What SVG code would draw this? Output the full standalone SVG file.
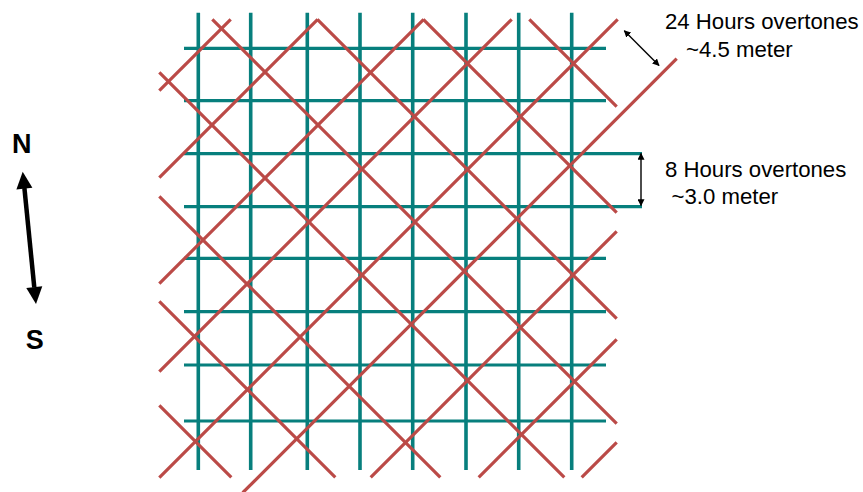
<svg xmlns="http://www.w3.org/2000/svg" width="863" height="492" viewBox="0 0 863 492">
<style>
.g{stroke:#077F7D;fill:none}
.gv{stroke-width:3.6}
.gh{stroke-width:3.2}
.r{stroke:#BB4A47;stroke-width:3.2;fill:none;stroke-linecap:butt}
.t{font-family:"Liberation Sans",Arial,sans-serif;font-size:22.2px;fill:#000}
.b{font-family:"Liberation Sans",Arial,sans-serif;font-size:27px;font-weight:bold;fill:#000}
.thin{stroke:#000;stroke-width:1.4;fill:none}
</style>
<defs>
<marker id="ah" viewBox="0 0 10 10" refX="9" refY="5" markerWidth="7" markerHeight="7" markerUnits="userSpaceOnUse" orient="auto-start-reverse">
<path d="M0,0 L10,5 L0,10 z" fill="#000"/>
</marker>
</defs>
<rect width="863" height="492" fill="#fff"/>
<g id="grid-8h">
<g class="g gv">
<line x1="198.3" y1="12.7" x2="198.3" y2="470"/>
<line x1="250.7" y1="12.7" x2="250.7" y2="470"/>
<line x1="307.3" y1="12.7" x2="307.3" y2="470"/>
<line x1="360" y1="12.7" x2="360" y2="470"/>
<line x1="412.7" y1="12.7" x2="412.7" y2="470"/>
<line x1="466" y1="12.7" x2="466" y2="470"/>
<line x1="518.7" y1="12.7" x2="518.7" y2="470"/>
<line x1="571.7" y1="12.7" x2="571.7" y2="470"/>
</g>
<g class="g gh">
<line x1="184" y1="48.3" x2="606" y2="48.3"/>
<line x1="184" y1="100.7" x2="606" y2="100.7"/>
<line x1="184" y1="153.7" x2="642" y2="153.7"/>
<line x1="184" y1="206.7" x2="642" y2="206.7"/>
<line x1="184" y1="258.3" x2="606" y2="258.3"/>
<line x1="184" y1="311.7" x2="606" y2="311.7"/>
<line x1="184" y1="365" x2="606" y2="365"/>
<line x1="184" y1="421" x2="606" y2="421"/>
</g>
</g>
<g id="grid-24h" class="r">
<line x1="159.3" y1="90.7" x2="230.7" y2="19.3"/>
<line x1="159.3" y1="177.7" x2="317.7" y2="19.3"/>
<line x1="159.3" y1="283.7" x2="423.7" y2="19.3"/>
<line x1="159.3" y1="371.7" x2="511.7" y2="19.3"/>
<line x1="159.3" y1="477.7" x2="617.7" y2="19.3"/>
<line x1="242.7" y1="492.7" x2="676.7" y2="58.7"/>
<line x1="370.7" y1="477.3" x2="616.7" y2="231.3"/>
<line x1="478.7" y1="477.3" x2="616.7" y2="339.3"/>
<line x1="581.7" y1="477.3" x2="616.7" y2="442.3"/>
<line x1="529.3" y1="19.3" x2="616.7" y2="106.7"/>
<line x1="423.3" y1="19.3" x2="616.7" y2="212.7"/>
<line x1="317.3" y1="19.3" x2="616.7" y2="318.7"/>
<line x1="212.3" y1="19.3" x2="616.7" y2="423.7"/>
<line x1="159.3" y1="72.3" x2="564.3" y2="477.3"/>
<line x1="159.3" y1="196.3" x2="440.3" y2="477.3"/>
<line x1="159.3" y1="301.3" x2="335.3" y2="477.3"/>
<line x1="159.3" y1="405.3" x2="231.3" y2="477.3"/>
</g>
<g id="connectors">
<line class="thin" x1="624.3" y1="30.7" x2="659" y2="65.4" marker-start="url(#ah)" marker-end="url(#ah)"/>
<line class="thin" x1="641" y1="153.5" x2="641" y2="205.5" marker-start="url(#ah)" marker-end="url(#ah)"/>
<g id="ns-arrow">
<line stroke="#000" stroke-width="4.5" x1="24.4" y1="188" x2="34.3" y2="287.5"/>
<polygon points="22.7,171.7 32.4,187.8 16.4,189.4" fill="#000"/>
<polygon points="36,304 42.3,286.3 26.3,287.9" fill="#000"/>
</g>
</g>
<g id="label-24h">
<text class="t" x="665" y="29.3">24 Hours overtones</text>
<text class="t" x="686" y="56.5">~4.5 meter</text>
</g>
<g id="label-8h">
<text class="t" x="665" y="176.7">8 Hours overtones</text>
<text class="t" x="671.5" y="204">~3.0 meter</text>
</g>
<g id="compass">
<text class="b" x="21.7" y="152.7" text-anchor="middle">N</text>
<text class="b" x="34.7" y="349.3" text-anchor="middle">S</text>
</g>
</svg>
